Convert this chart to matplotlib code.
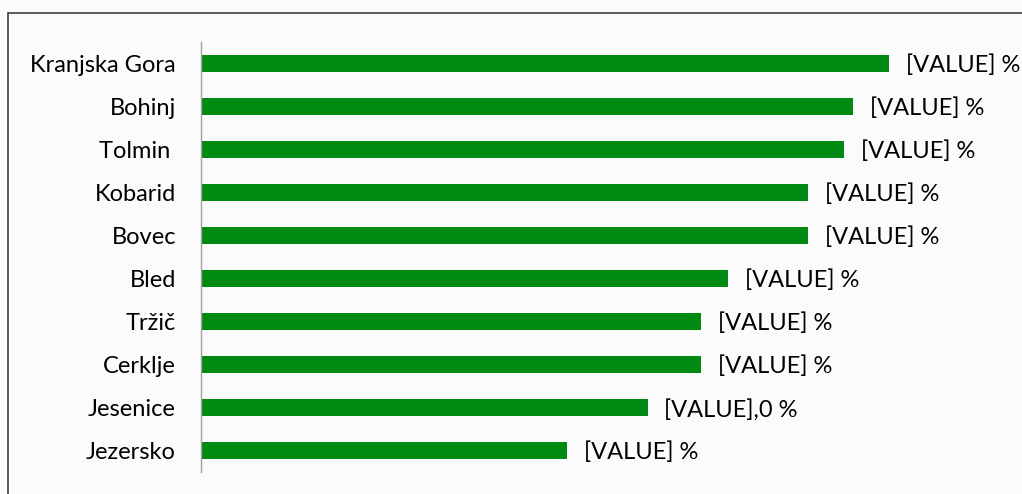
import matplotlib
matplotlib.use("Agg")
import matplotlib.pyplot as plt
from matplotlib.patches import Rectangle

places = ["Kranjska Gora", "Bohinj", "Tolmin ", "Kobarid", "Bovec",
          "Bled", "Tržič", "Cerklje", "Jesenice", "Jezersko"]
values = [77, 73, 72, 68, 68, 59, 56, 56, 50, 41]
labels = ["[VALUE] %", "[VALUE] %", "[VALUE] %", "[VALUE] %", "[VALUE] %",
          "[VALUE] %", "[VALUE] %", "[VALUE] %", "[VALUE],0 %", "[VALUE] %"]

plt.rcParams['font.family'] = ['Lato', 'DejaVu Sans']

fig = plt.figure(figsize=(10.22, 4.94), dpi=100)
fig.patch.set_facecolor('#fbfbfb')
fig.patches.append(Rectangle((8/1022, -0.1), 1.1, (494 - 13)/494 + 0.1,
                             transform=fig.transFigure, fill=False,
                             edgecolor='#404040', linewidth=1.2))

ax = fig.add_axes([201/1022, 1 - 472/494, (1005 - 201)/1022, (472 - 42)/494])
ax.set_facecolor('none')

y = list(range(len(places)))
ax.barh(y, values, height=0.4, color='#008a12')
ax.set_ylim(len(places) - 0.5, -0.5)
ax.set_xlim(0, 90)
ax.set_yticks(y)
ax.set_yticklabels(places, fontsize=17, color='black')
ax.tick_params(axis='y', length=0, pad=18)
ax.set_xticks([])
for s in ['top', 'right', 'bottom']:
    ax.spines[s].set_visible(False)
ax.spines['left'].set_color('#a0a0a0')
ax.spines['left'].set_linewidth(1)

for yi, v, t in zip(y, values, labels):
    ax.annotate(t, (v, yi), xytext=(12, -1.5), textcoords='offset points',
                ha='left', va='center', fontsize=17, color='black')

fig.savefig("out.png", dpi=100, facecolor=fig.get_facecolor())
